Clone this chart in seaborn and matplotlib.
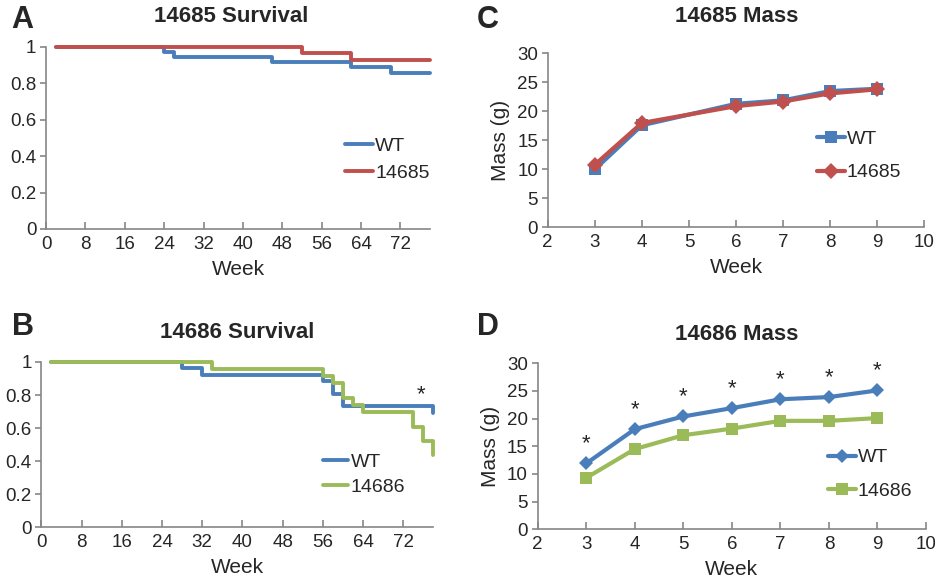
import numpy as np
import pandas as pd
import seaborn as sns
import matplotlib.pyplot as plt

# survival data (Kaplan-Meier style steps)
a_weeks_wt = [2, 24, 26, 46, 62, 70, 78]
a_surv_wt = [1.0, 0.971, 0.943, 0.914, 0.886, 0.857, 0.857]
a_weeks_mut = [2, 52, 62, 78]
a_surv_mut = [1.0, 0.964, 0.929, 0.929]

b_weeks_wt = [2, 28, 32, 56, 58, 60, 78]
b_surv_wt = [1.0, 0.962, 0.923, 0.885, 0.808, 0.731, 0.692]
b_weeks_mut = [2, 34, 56, 58, 60, 62, 64, 74, 76, 78]
b_surv_mut = [1.0, 0.957, 0.913, 0.870, 0.783, 0.739, 0.696, 0.609, 0.522, 0.435]
b_star = (75.5, 0.80)

# mass data
c_weeks = [3, 4, 6, 7, 8, 9]
c_mass_wt = [10.0, 17.6, 21.3, 21.9, 23.5, 23.9]
c_mass_mut = [10.8, 18.0, 20.9, 21.7, 23.1, 23.8]

d_weeks = [3, 4, 5, 6, 7, 8, 9]
d_mass_wt = [11.9, 18.1, 20.4, 21.9, 23.5, 23.9, 25.1]
d_mass_mut = [9.3, 14.5, 17.0, 18.2, 19.6, 19.6, 20.1]

surv_ticks = [0, 8, 16, 24, 32, 40, 48, 56, 64, 72]

BLUE = '#4a7ebb'
RED = '#c0504d'
GREEN = '#9bbb59'
GREY = '#868686'

sns.set_theme(style='white')
plt.rcParams['font.family'] = ['Liberation Sans', 'DejaVu Sans']

fig = plt.figure(figsize=(9.35, 5.8), dpi=100)

ax_a = fig.add_axes([0.0492, 0.6052, 0.4107, 0.3143])
ax_b = fig.add_axes([0.0442, 0.0909, 0.4193, 0.2850])
ax_c = fig.add_axes([0.5858, 0.6080, 0.4028, 0.3000])
ax_d = fig.add_axes([0.5751, 0.0874, 0.4153, 0.2862])


def style_axes(ax):
    sns.despine(ax=ax)
    for s in ['left', 'bottom']:
        ax.spines[s].set_color(GREY)
        ax.spines[s].set_linewidth(1.2)
    ax.tick_params(axis='x', direction='in', length=5, width=1.2, color=GREY,
                   labelsize=13.5, pad=5, bottom=True)
    ax.tick_params(axis='y', direction='out', length=4, width=1.2, color=GREY,
                   labelsize=13.5, pad=3, left=True)
    ax.set_xlabel('Week', fontsize=15, labelpad=5)


def surv_panel(ax, w1, s1, w2, s2, lab2, col2):
    sns.lineplot(x=w1, y=s1, ax=ax, color=BLUE, lw=2.8, drawstyle='steps-post',
                 label='WT', clip_on=False)
    sns.lineplot(x=w2, y=s2, ax=ax, color=col2, lw=2.8, drawstyle='steps-post',
                 label=lab2, clip_on=False)
    ax.set_xlim(0, 78)
    ax.set_ylim(0, 1)
    ax.set_xticks(surv_ticks)
    ax.set_yticks([0, 0.2, 0.4, 0.6, 0.8, 1])
    ax.set_yticklabels(['0', '0.2', '0.4', '0.6', '0.8', '1'])
    style_axes(ax)


def mass_panel(ax, weeks, m1, m2, mk1, mk2, ms1, ms2, lab2, col2):
    df = pd.DataFrame({'week': weeks, 'wt': m1, 'mut': m2})
    sns.lineplot(data=df, x='week', y='wt', ax=ax, color=BLUE, lw=3.0,
                 marker=mk1, markersize=ms1, markeredgewidth=0, label='WT')
    sns.lineplot(data=df, x='week', y='mut', ax=ax, color=col2, lw=3.0,
                 marker=mk2, markersize=ms2, markeredgewidth=0, label=lab2)
    ax.set_xlim(2, 10)
    ax.set_ylim(0, 30)
    ax.set_xticks(range(2, 11))
    ax.set_yticks(range(0, 31, 5))
    style_axes(ax)
    ax.set_ylabel('Mass (g)', fontsize=15, labelpad=5)


surv_panel(ax_a, a_weeks_wt, a_surv_wt, a_weeks_mut, a_surv_mut, '14685', RED)
ax_a.set_ylabel('')
surv_panel(ax_b, b_weeks_wt, b_surv_wt, b_weeks_mut, b_surv_mut, '14686', GREEN)
ax_b.set_ylabel('')
ax_b.text(b_star[0], b_star[1], '*', fontsize=16, ha='center', va='center')

mass_panel(ax_c, c_weeks, c_mass_wt, c_mass_mut, 's', 'D', 8, 8, '14685', RED)
mass_panel(ax_d, d_weeks, d_mass_wt, d_mass_mut, 'D', 's', 7, 9, '14686', GREEN)
for w, m in zip(d_weeks, d_mass_wt):
    ax_d.annotate('*', (w, m), xytext=(0, 14), textcoords='offset points',
                  ha='center', va='center', fontsize=16)

leg_kw = dict(frameon=False, fontsize=14, handletextpad=0.1, borderpad=0,
              borderaxespad=0, loc='center left')
ax_a.legend(bbox_to_anchor=(0.779, 0.381), handlelength=1.45, labelspacing=0.5, **leg_kw)
ax_b.legend(bbox_to_anchor=(0.719, 0.319), handlelength=1.3, labelspacing=0.35, **leg_kw)
ax_c.legend(bbox_to_anchor=(0.714, 0.41), handlelength=1.45, labelspacing=0.8, **leg_kw)
ax_d.legend(bbox_to_anchor=(0.747, 0.332), handlelength=1.45, labelspacing=0.8, **leg_kw)

# titles and panel letters
titles = [('14685 Survival', 231, 17), ('14686 Survival', 236.7, 333),
          ('14685 Mass', 736.7, 17), ('14686 Mass', 736.3, 335)]
for t, x, y in titles:
    fig.text(x / 935, 1 - y / 580, t, fontsize=16, fontweight='bold',
             ha='center', va='center')
letters = [('A', 22.5, 20), ('B', 23, 327), ('C', 487.7, 20), ('D', 487.5, 327)]
for t, x, y in letters:
    fig.text(x / 935, 1 - y / 580, t, fontsize=22, fontweight='bold',
             ha='center', va='center')

fig.savefig('out.png', dpi=100)
